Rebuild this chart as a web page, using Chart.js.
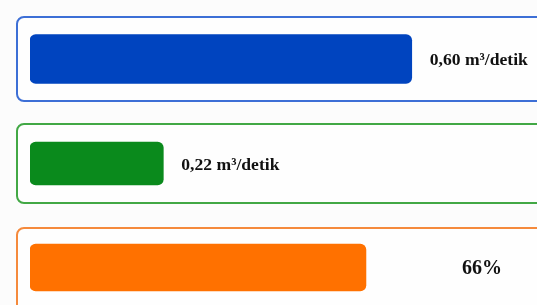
<!DOCTYPE html>
<html>
<head>
<meta charset="utf-8">
<script src="https://cdn.jsdelivr.net/npm/chart.js@4"></script>
<style>
  html, body { margin: 0; padding: 0; }
  body { width: 537px; height: 305px; overflow: hidden; background: #fcfcfc; position: relative; }
  .box { position: absolute; left: 16px; width: 540px; box-sizing: border-box; border: 2px solid; border-radius: 8px; background: #fefefe; }
  .box canvas { position: absolute; left: 0; top: 0; }
</style>
</head>
<body>
<div class="box" id="box1" style="top:16px;height:86px;border-color:#3d6fd6;"><canvas id="chart1"></canvas></div>
<div class="box" id="box2" style="top:123px;height:81px;border-color:#42a845;"><canvas id="chart2"></canvas></div>
<div class="box" id="box3" style="top:227px;height:100px;border-color:#f58a3c;"><canvas id="chart3"></canvas></div>
<script>
// values
const categories = ['Debit'];
const debitValues = [0.60];      // m3/detik, first box
const debitLabels = ['0,60 m³/detik'];
const flowValues = [0.22];       // m3/detik, second box
const flowLabels = ['0,22 m³/detik'];
const percentValues = [66];      // %, third box
const percentLabels = ['66%'];

// draws the value text next to the bar
const valueLabel = {
  id: 'valueLabel',
  afterDatasetsDraw(chart, args, opts) {
    const ctx = chart.ctx;
    const bar = chart.getDatasetMeta(0).data[0];
    ctx.save();
    ctx.font = 'bold ' + opts.size + 'px "Liberation Serif", "Times New Roman", serif';
    ctx.fillStyle = '#111111';
    ctx.textBaseline = 'middle';
    if (opts.fixedX != null) {
      ctx.textAlign = 'center';
      ctx.fillText(opts.text, chart.chartArea.left + opts.fixedX, bar.y + 1.5);
    } else {
      ctx.textAlign = 'left';
      ctx.fillText(opts.text, bar.x + 18, bar.y + 1.5);
    }
    ctx.restore();
  }
};

function makeChart(id, values, color, max, thickness, padding, label) {
  const box = document.getElementById(id).parentElement;
  const canvas = document.getElementById(id);
  canvas.width = box.clientWidth;
  canvas.height = box.clientHeight;
  canvas.style.width = box.clientWidth + 'px';
  canvas.style.height = box.clientHeight + 'px';
  return new Chart(canvas.getContext('2d'), {
    type: 'bar',
    data: {
      labels: categories,
      datasets: [{
        data: values,
        backgroundColor: color,
        borderRadius: 6,
        borderSkipped: false,
        barThickness: thickness
      }]
    },
    options: {
      indexAxis: 'y',
      responsive: false,
      animation: false,
      layout: { padding: padding },
      scales: {
        x: { display: false, min: 0, max: max },
        y: { display: false }
      },
      plugins: {
        legend: { display: false },
        tooltip: { enabled: false },
        valueLabel: label
      }
    },
    plugins: [valueLabel]
  });
}

makeChart('chart1', debitValues, '#0044bf', 0.80, 49, { left: 12, right: 15, top: 0, bottom: 0 },
  { text: debitLabels[0], size: 17.6 });
makeChart('chart2', flowValues, '#0a8a1c', 0.84, 43, { left: 12, right: 15, top: 0, bottom: 0 },
  { text: flowLabels[0], size: 17.6 });
makeChart('chart3', percentValues, '#ff7100', 100, 47, { left: 12, right: 15, top: 0, bottom: 19 },
  { text: percentLabels[0], size: 20, fixedX: 452 });
</script>
</body>
</html>
